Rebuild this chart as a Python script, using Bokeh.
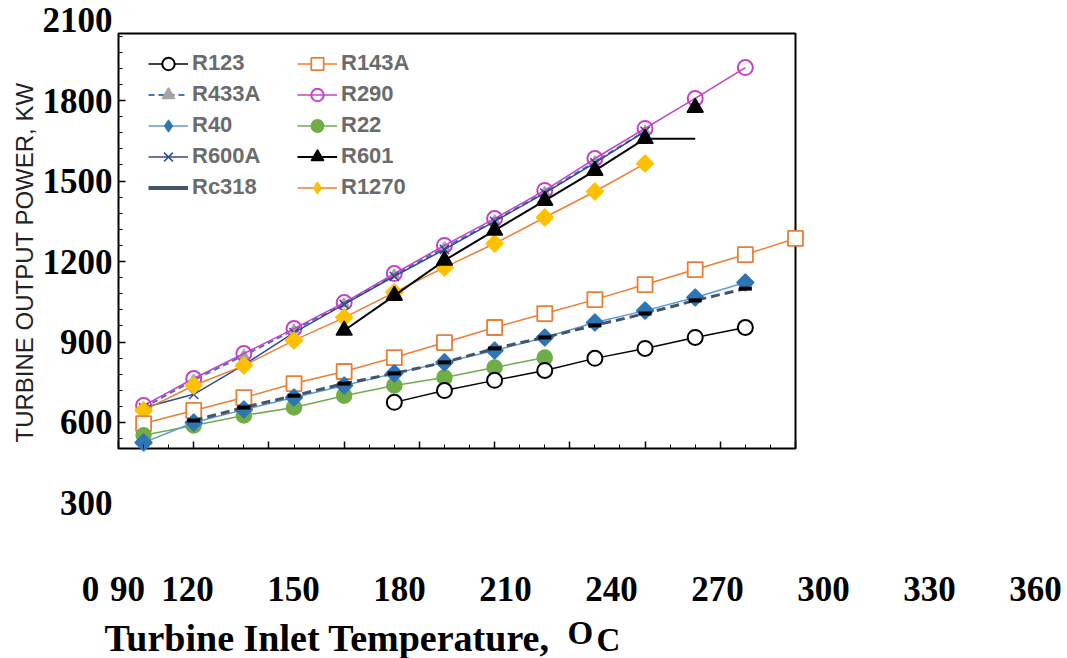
import math
from bokeh.plotting import figure
from bokeh.models import Range1d, FixedTicker, LinearAxis, Legend, LegendItem
from bokeh.core.properties import value
from bokeh.embed import file_html
from bokeh.resources import INLINE

# ---------------- data ----------------
t_r123 = [200, 220, 240, 260, 280, 300, 320, 340]
r123 = [675, 719, 757, 794, 839, 876, 917, 954]

t_r143a = [100, 120, 140, 160, 180, 200, 220, 240, 260, 280, 300, 320, 340, 360]
r143a = [596, 645, 693, 745, 790, 842, 898, 954, 1006, 1058, 1114, 1170, 1226, 1286]

t_r433a = [100, 120, 140, 160, 180, 200, 220, 240, 260, 280, 300]
r433a = [655, 758, 850, 945, 1042, 1150, 1252, 1352, 1458, 1572, 1686]

t_r290 = [100, 120, 140, 160, 180, 200, 220, 240, 260, 280, 300, 320, 340]
r290 = [663, 764, 857, 950, 1047, 1155, 1260, 1360, 1465, 1584, 1696, 1808, 1923]

t_r40 = [100, 120, 140, 160, 180, 200, 220, 240, 260, 280, 300, 320, 340]
r40 = [525, 600, 648, 693, 738, 783, 824, 868, 917, 973, 1017, 1066, 1122]

t_r22 = [100, 120, 140, 160, 180, 200, 220, 240, 260]
r22 = [552, 589, 626, 656, 700, 738, 768, 805, 842]

t_r600a = [100, 120, 140, 160, 180, 200, 220, 240, 260, 280, 300]
r600a = [655, 705, 815, 935, 1040, 1145, 1245, 1350, 1455, 1568, 1685]

t_r601 = [180, 200, 220, 240, 260, 280, 300, 320]
r601 = [943, 1073, 1204, 1316, 1427, 1539, 1658, 1774]
r601_line_end = 1658          # the black line runs on flat to 320 at this level

t_rc318 = [120, 140, 160, 180, 200, 220, 240, 260, 280, 300, 320, 340]
rc318 = [607, 656, 700, 745, 783, 824, 876, 917, 962, 1006, 1055, 1099]

t_r1270 = [100, 120, 140, 160, 180, 200, 220, 240, 260, 280, 300]
r1270 = [645, 738, 812, 906, 991, 1085, 1178, 1267, 1364, 1461, 1565]

x_major = [90, 120, 150, 180, 210, 240, 270, 300, 330, 360]
x_minor = [100, 110, 130, 140, 160, 170, 190, 200, 220, 230, 250, 260, 280, 290, 310, 320, 340, 350]
y_major = [600, 900, 1200, 1500, 1800]
y_minor = [540, 660, 720, 780, 840, 960, 1020, 1080, 1140, 1260, 1320, 1380, 1440,
           1560, 1620, 1680, 1740, 1860, 1920, 1980, 2040]
y_tick_labels = [300, 600, 900, 1200, 1500, 1800, 2100]
x_row_labels = ["0", "90", "120", "150", "180", "210", "240", "270", "300", "330", "360"]

# axis limits of the boxed plot area
X_LO, X_HI = 90, 360
Y_LO, Y_HI = 503, 2050

# ---------------- layout geometry ----------------
W, H = 1067, 658
BOX_L, BOX_R, BOX_T, BOX_B = 118, 795, 33, 448
kx = (BOX_R - BOX_L) / (X_HI - X_LO)
ky = (BOX_B - BOX_T) / (Y_HI - Y_LO)


def px_x(px):
    return X_LO + (px - BOX_L) / kx


def px_y(py):
    return Y_LO - (py - BOX_B) / ky


p = figure(width=W, height=H,
           x_range=Range1d(px_x(0), px_x(W)), y_range=Range1d(px_y(H), px_y(0)),
           output_backend="svg", toolbar_location=None,
           min_border_left=0, min_border_right=0, min_border_top=0, min_border_bottom=0)
p.title.visible = False
p.xgrid.visible = False
p.ygrid.visible = False
p.outline_line_color = None
p.background_fill_color = "white"
p.border_fill_color = "white"

# box around the plotted ranges
p.quad(left=[X_LO], right=[X_HI], bottom=[Y_LO], top=[Y_HI],
       fill_color=None, line_color="black", line_width=2)

# bottom ticks (inside the box)
xa = p.xaxis[0]
xa.fixed_location = Y_LO
xa.ticker = FixedTicker(ticks=x_major, minor_ticks=x_minor)
xa.axis_line_color = None
xa.major_tick_in, xa.major_tick_out = 7, 0
xa.minor_tick_in, xa.minor_tick_out = 4, 0
xa.major_tick_line_width = 1.5
xa.major_label_text_font_size = "0px"
xa.major_label_text_color = None
xa.major_label_standoff = 0

# left ticks (inside the box)
ya = p.yaxis[0]
ya.fixed_location = X_LO
ya.ticker = FixedTicker(ticks=y_major, minor_ticks=y_minor)
ya.axis_line_color = None
ya.major_tick_in, ya.major_tick_out = 7, 0
ya.minor_tick_in, ya.minor_tick_out = 4, 0
ya.major_tick_line_width = 1.5
ya.major_label_text_font_size = "0px"
ya.major_label_text_color = None
ya.major_label_standoff = 0

# left tick labels (300 ... 2100, incl. the ones outside the box)
yl = LinearAxis(ticker=FixedTicker(ticks=y_tick_labels, minor_ticks=[]), fixed_location=X_LO,
                axis_line_color=None, major_tick_line_color=None, minor_tick_line_color=None,
                major_tick_in=0, major_tick_out=0, minor_tick_in=0, minor_tick_out=0,
                major_label_standoff=6,
                major_label_text_font="Liberation Serif", major_label_text_font_style="bold",
                major_label_text_font_size="35px", major_label_text_color="black")
p.add_layout(yl, "left")

SERIF = dict(text_font=value("Liberation Serif"), text_font_style="bold", text_color="black")

# y title
p.text(x=[px_x(24)], y=[px_y(262)], text=["TURBINE OUTPUT POWER, KW"], angle=math.pi / 2,
       text_align="center", text_baseline="middle", text_font=value("Liberation Sans"),
       text_font_size="24px", text_color="#222222")

# mis-registered tick-label row under the chart
row_px = [90, 127] + [187 + (int(t) - 120) / 30 * 106 for t in x_row_labels[2:]]
p.text(x=[px_x(c) for c in row_px], y=[px_y(588)] * len(row_px), text=x_row_labels,
       text_align="center", text_baseline="middle", text_font_size="35px", **SERIF)

# x title with the raised "O" of the degree sign
p.text(x=[px_x(104)], y=[px_y(637)], text=["Turbine Inlet Temperature,"],
       text_align="left", text_baseline="middle", text_font_size="38px", **SERIF)
p.text(x=[px_x(567)], y=[px_y(632)], text=["O"],
       text_align="left", text_baseline="middle", text_font_size="33px", **SERIF)
p.text(x=[px_x(596)], y=[px_y(639)], text=["C"],
       text_align="left", text_baseline="middle", text_font_size="33px", **SERIF)


# ---------------- series ----------------
def series(t, v, lcolor, marker, mline, mfill, size, dash="solid", lw=1.5, mlw=1.5,
           line_v=None, angle=0.0):
    lr = p.line(t, line_v if line_v is not None else v,
                line_color=lcolor, line_width=lw, line_dash=dash)
    sr = p.scatter(t, v, marker=marker, size=size, angle=angle,
                   line_color=mline, fill_color=mfill, line_width=mlw)
    return [lr, sr]


def legend_marker(t, v, marker, color, size, lw=1.0):
    # hidden copy of a series, only used to draw its legend symbol
    r = p.scatter(t, v, marker=marker, size=size, line_color=color, fill_color=color, line_width=lw)
    r.visible = False
    return r


DIAM = math.pi / 4
R = {}
R["R433A"] = series(t_r433a, r433a, "#4472c4", "triangle", "#a5a5a5", "#a5a5a5", 10, dash="6 4", lw=2)
R["R290"] = series(t_r290, r290, "#c83fc8", "circle", "#c83fc8", None, 15, mlw=2)
R["R600A"] = series(t_r600a, r600a, "#2f4b8f", "x", "#2f4b8f", None, 13, lw=1.5, mlw=1.5)
R["R1270"] = series(t_r1270, r1270, "#ed7d31", "square", "#ffc000", "#ffc000", 12, angle=DIAM)
R["R601"] = series(t_r601, r601, "black", "triangle", "black", "black", 16,
                   line_v=r601[:-1] + [r601_line_end], lw=2)
R["R143A"] = series(t_r143a, r143a, "#ed7d31", "square", "#ed7d31", "white", 15, mlw=1.8)
R["R22"] = series(t_r22, r22, "#70ad47", "circle", "#70ad47", "#70ad47", 15)
R["R40"] = series(t_r40, r40, "#5b9bd5", "square", "#2e75b6", "#2e75b6", 12, angle=DIAM)
R["Rc318"] = series(t_rc318, rc318, "#44546a", "dash", "black", "black", 13, dash="9 5", lw=3, mlw=4)
R["R123"] = series(t_r123, r123, "black", "circle", "black", "white", 15, mlw=2)

leg_r40 = legend_marker(t_r40, r40, "diamond", "#2e75b6", 20)
leg_r1270 = legend_marker(t_r1270, r1270, "diamond", "#ffc000", 20)
leg_rc318 = p.line(t_rc318, rc318, line_color="#44546a", line_width=4)
leg_rc318.visible = False

GH = 31          # row pitch of the legend
LEG = dict(background_fill_alpha=0, border_line_color=None, label_text_font="Liberation Sans",
           label_text_font_style="bold", label_text_font_size="22px", label_text_color="#6b6b6b",
           glyph_width=40, glyph_height=GH, label_height=24, spacing=0, padding=0, margin=0,
           label_standoff=4)
items1 = [LegendItem(label="R123", renderers=R["R123"]),
          LegendItem(label="R433A", renderers=R["R433A"]),
          LegendItem(label="R40", renderers=[R["R40"][0], leg_r40]),
          LegendItem(label="R600A", renderers=R["R600A"]),
          LegendItem(label="Rc318", renderers=[leg_rc318])]
items2 = [LegendItem(label="R143A", renderers=R["R143A"]),
          LegendItem(label="R290", renderers=R["R290"]),
          LegendItem(label="R22", renderers=R["R22"]),
          LegendItem(label="R601", renderers=R["R601"]),
          LegendItem(label="R1270", renderers=[R["R1270"][0], leg_r1270])]
leg_top = 63 - GH / 2
leg_bottom = leg_top + 5 * GH
p.add_layout(Legend(items=items1, location=(148, H - leg_bottom), **LEG), "center")
p.add_layout(Legend(items=items2, location=(297, H - leg_bottom), **LEG), "center")

open("out.html", "w").write(file_html(p, INLINE))
